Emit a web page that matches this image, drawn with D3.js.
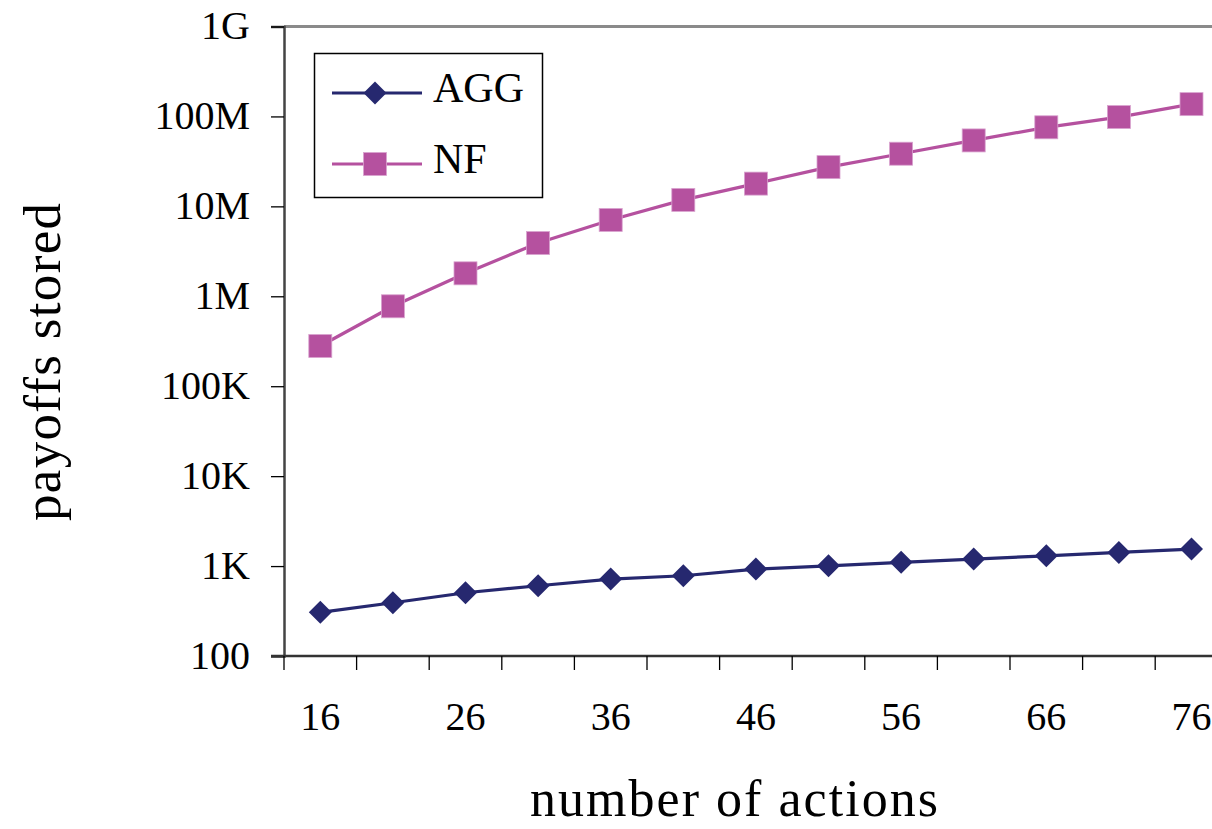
<!DOCTYPE html>
<html>
<head>
<meta charset="utf-8">
<script src="https://cdn.jsdelivr.net/npm/d3@7"></script>
<style>
  html, body { margin: 0; padding: 0; background: #fff; }
  svg { display: block; }
  svg text { font-family: "Liberation Serif", "DejaVu Serif", serif; fill: #000; }
</style>
</head>
<body>
<svg id="chart" width="1212" height="829"></svg>
<script>
// ---- data ----
const categories = [16, 21, 26, 31, 36, 41, 46, 51, 56, 61, 66, 71, 76];
const aggValues = [306, 391, 505, 604, 717, 780, 926, 1007, 1100, 1196, 1301, 1420, 1545];
const nfValues = [280000, 774000, 1800000, 3910000, 7060000, 11800000, 17900000, 27300000, 38500000, 54100000, 75700000, 98400000, 137000000];
const seriesNames = ["AGG", "NF"];
const yTickValues = [1e2, 1e3, 1e4, 1e5, 1e6, 1e7, 1e8, 1e9];
const yTickLabels = ["100", "1K", "10K", "100K", "1M", "10M", "100M", "1G"];
const xTickLabels = ["16", "26", "36", "46", "56", "66", "76"];
const xTitle = "number of actions";
const yTitle = "payoffs stored";

// ---- layout ----
const FONT = "Liberation Serif, DejaVu Serif, serif";
const plotLeft = 284, plotTop = 26.5, plotBottom = 656;
const band = 72.6;
const plotRight = plotLeft + band * categories.length;
const colors = { AGG: "#26286f", NF: "#b5519f" };

const svg = d3.select("#chart");

const x = d3.scaleBand().domain(categories).range([plotLeft, plotRight]).padding(0);
const y = d3.scaleLog().domain([1e2, 1e9]).range([plotBottom, plotTop]);
const cx = d => x(d) + x.bandwidth() / 2;

// plot area top border (gray)
svg.append("line")
  .attr("x1", plotLeft).attr("x2", plotRight)
  .attr("y1", plotTop).attr("y2", plotTop)
  .attr("stroke", "#8a8a8a").attr("stroke-width", 3);

// Y axis
const yAxis = d3.axisLeft(y)
  .tickValues(yTickValues)
  .tickFormat((d, i) => yTickLabels[i])
  .tickSize(13).tickPadding(21);
const gy = svg.append("g").attr("transform", `translate(${plotLeft},0)`).call(yAxis)
  .attr("font-family", FONT).attr("font-size", 40);
gy.select(".domain").attr("stroke", "#444").attr("stroke-width", 2.5);
gy.selectAll(".tick line").attr("stroke", "#000").attr("stroke-width", 1.3);
gy.selectAll(".tick text")
  .attr("font-size", 40)
  .attr("font-family", FONT)
  .attr("dy", "0.3em");

// X axis line
svg.append("line")
  .attr("x1", plotLeft - 13).attr("x2", plotRight)
  .attr("y1", plotBottom).attr("y2", plotBottom)
  .attr("stroke", "#333").attr("stroke-width", 2.5);

// X axis tick marks at category boundaries
svg.append("g").selectAll("line")
  .data(categories)
  .join("line")
  .attr("x1", d => x(d)).attr("x2", d => x(d))
  .attr("y1", plotBottom).attr("y2", plotBottom + 14)
  .attr("stroke", "#000").attr("stroke-width", 1.3);

// X tick labels (every other category) via axis
const xAxis = d3.axisBottom(x)
  .tickValues(xTickLabels.map(Number))
  .tickSize(0).tickPadding(0);
const gx = svg.append("g").attr("transform", `translate(0,${plotBottom})`).call(xAxis)
  .attr("font-family", FONT).attr("font-size", 40);
gx.select(".domain").remove();
gx.selectAll(".tick text")
  .attr("font-size", 40)
  .attr("font-family", FONT)
  .attr("dy", null)
  .attr("y", 74);

// lines
const line = d3.line().x((d, i) => cx(categories[i])).y(d => y(d));
svg.append("path").datum(aggValues)
  .attr("d", line).attr("fill", "none")
  .attr("stroke", colors.AGG).attr("stroke-width", 3.2);
svg.append("path").datum(nfValues)
  .attr("d", line).attr("fill", "none")
  .attr("stroke", colors.NF).attr("stroke-width", 3.2);

// markers
const diamond = s => `M0,${-s / 2}L${s / 2},0L0,${s / 2}L${-s / 2},0Z`;
svg.append("g").selectAll("path")
  .data(aggValues)
  .join("path")
  .attr("d", diamond(23))
  .attr("transform", (d, i) => `translate(${cx(categories[i])},${y(d)})`)
  .attr("fill", colors.AGG);
svg.append("g").selectAll("rect")
  .data(nfValues)
  .join("rect")
  .attr("x", (d, i) => cx(categories[i]) - 11.5)
  .attr("y", d => y(d) - 11.5)
  .attr("width", 23).attr("height", 23)
  .attr("fill", colors.NF)
  .attr("stroke", "#d9a3cf").attr("stroke-width", 0.8);

// legend
const lg = svg.append("g");
lg.append("rect")
  .attr("x", 314.5).attr("y", 53.5).attr("width", 228).attr("height", 144)
  .attr("fill", "#fff").attr("stroke", "#000").attr("stroke-width", 1.5);
const legendRows = [{ name: seriesNames[0], yy: 93 }, { name: seriesNames[1], yy: 164 }];
legendRows.forEach(r => {
  lg.append("line")
    .attr("x1", 332).attr("x2", 422).attr("y1", r.yy).attr("y2", r.yy)
    .attr("stroke", colors[r.name]).attr("stroke-width", 3.2);
  if (r.name === "AGG") {
    lg.append("path").attr("d", diamond(23))
      .attr("transform", `translate(375,${r.yy})`).attr("fill", colors.AGG);
  } else {
    lg.append("rect").attr("x", 375 - 11.5).attr("y", r.yy - 11.5)
      .attr("width", 23).attr("height", 23).attr("fill", colors.NF)
      .attr("stroke", "#d9a3cf").attr("stroke-width", 0.8);
  }
  lg.append("text").attr("x", 433).attr("y", r.yy + 9)
    .attr("font-family", FONT)
    .attr("font-size", 42).text(r.name);
});

// axis titles
svg.append("text")
  .attr("x", 734).attr("y", 816)
  .attr("text-anchor", "middle")
  .attr("font-family", FONT)
  .attr("font-size", 52)
  .attr("textLength", 408).attr("lengthAdjust", "spacing")
  .text(xTitle);
svg.append("text")
  .attr("transform", "translate(60,362) rotate(-90)")
  .attr("text-anchor", "middle")
  .attr("font-family", FONT)
  .attr("font-size", 53)
  .attr("textLength", 318).attr("lengthAdjust", "spacing")
  .text(yTitle);
</script>
</body>
</html>
